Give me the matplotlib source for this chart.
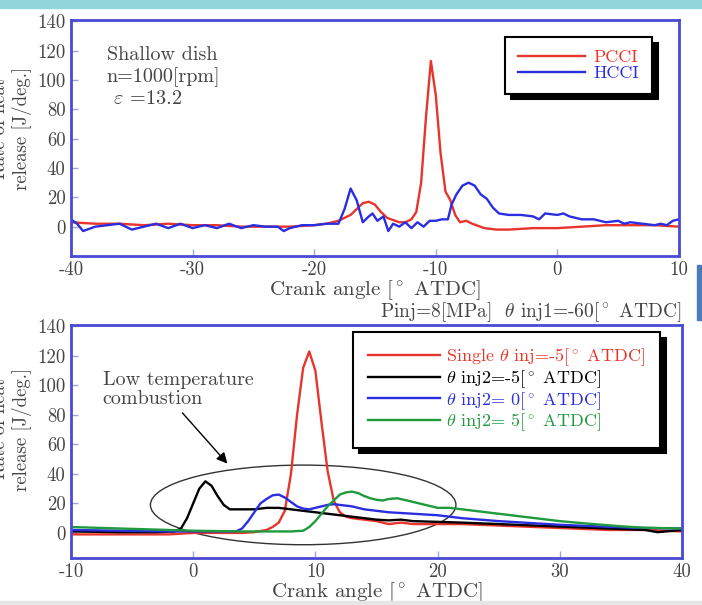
import numpy as np
import matplotlib
matplotlib.use("Agg")
import matplotlib.pyplot as plt
from matplotlib.patches import Ellipse, Rectangle

plt.rcParams['font.family'] = 'cmr10'
plt.rcParams['mathtext.fontset'] = 'cm'
plt.rcParams['axes.unicode_minus'] = False

# ---- top panel data: PCCI vs HCCI ----
hcci_x = [-40, -39.5, -39, -38, -37, -36, -35, -34, -33, -32, -31, -30, -29, -28, -27, -26,
          -25, -24, -23, -22.5, -22, -21, -20, -19, -18, -17.5, -17, -16.5, -16, -15.5, -15.2,
          -14.8, -14.3, -13.9, -13.5, -13, -12.5, -12, -11.5, -11, -10.5, -10, -9.5, -9, -8.7,
          -8.3, -7.8, -7.3, -6.8, -6.3, -5.8, -5.3, -4.8, -4, -3, -2, -1.5, -1, 0, 0.5, 1, 2,
          3, 4, 5, 5.5, 6, 7, 8, 8.5, 9, 9.5, 10]
hcci_y = [5, 2, -3, 0, 1, 2, -2, 0, 2, -1, 2, -1, 1, -1, 2, -1,
          1, 0, 0, -3, -1, 1, 1, 2, 2, 12, 26, 18, 3, 7, 9,
          4, 7, -3, 2, 0, 3, -1, 3, 0, 4, 4, 5, 5, 15,
          22, 28, 30, 28, 22, 19, 13, 9, 8, 8, 7, 5, 9, 8, 9, 7, 5,
          5, 3, 4, 2, 3, 2, 1, 2, 1, 4, 5]

pcci_x = [-40, -38, -36, -34, -32, -30, -28, -26, -24, -22, -20, -19, -18, -17, -16.5, -16,
          -15.5, -15, -14.5, -14, -13, -12.5, -12, -11.6, -11.2, -10.8, -10.4, -10, -9.6,
          -9.2, -8.8, -8.4, -8, -7.5, -7, -6, -5, -4, -2, 0, 2, 4, 6, 8, 10]
pcci_y = [3, 2, 2, 1, 2, 1, 1, 0, 0, 0, 1, 2, 4, 8, 12, 16,
          17, 15, 10, 6, 3, 3, 5, 10, 30, 75, 113, 90, 50,
          24, 18, 8, 3, 4, 2, -1, -2, -2, -1, -1, 0, 1, 1, 1, 0]

# ---- bottom panel data: split injection ----
single_x = [-10, -6, -2, 0, 2, 4, 5, 6, 6.5, 7, 7.5, 8, 8.5, 9, 9.5, 10, 10.5, 11, 11.5,
            12, 12.5, 13, 14, 15, 16, 17, 18, 20, 22, 25, 28, 31, 34, 37, 40]
single_y = [-1, -1, -1, 0, 0, 0, 0.5, 2, 4, 7, 15, 40, 80, 112, 123, 110, 75, 42, 22,
            14, 11, 10, 9, 8, 6, 7, 6, 6, 6, 5, 4, 3, 2, 2, 1]

inj_m5_x = [-10, -6, -3, -1.5, -1, -0.5, 0, 0.5, 1, 1.5, 2, 2.5, 3, 4, 5, 6, 7, 8, 9, 10,
            11, 12, 13, 14, 15, 16, 17, 18, 20, 22, 25, 28, 31, 34, 37, 38, 40]
inj_m5_y = [1, 0.5, 0.5, 1, 3, 10, 20, 30, 35, 32, 25, 19, 16, 16, 16, 17, 17, 16, 15, 14,
            13, 12, 11, 10, 9, 8.5, 9, 8, 7.5, 7, 6, 5, 4, 3, 2, 0.5, 2]

inj_0_x = [-10, -6, -2, 0, 2, 3.5, 4, 4.5, 5, 5.5, 6, 6.5, 7, 7.5, 8, 8.5, 9, 9.5, 10, 11,
           11.5, 12, 13, 14, 15, 16, 17, 18, 20, 22, 25, 28, 30, 33, 36, 40]
inj_0_y = [2, 1.5, 1, 1, 1, 1, 3, 8, 14, 20, 23, 25.5, 26, 24, 21, 18, 16.5, 16, 17, 19,
           19.5, 19, 18, 16, 15, 14, 13.5, 13, 12, 10, 8, 6.5, 5.5, 4.5, 3.5, 3]

inj_5_x = [-10, -6, -2, 0, 4, 8, 9, 9.5, 10, 10.5, 11, 11.5, 12, 12.5, 13, 13.5, 14, 14.5,
           15, 15.5, 16, 16.7, 17.5, 18.5, 20, 21, 22, 24, 26, 28, 30, 32, 35, 37, 40]
inj_5_y = [4, 3, 2, 1.5, 1, 1, 1.5, 4, 8, 13, 18, 22, 26, 27.5, 28, 27, 25, 23.5,
           22.5, 22, 23, 23.5, 22, 20, 17, 17, 16, 14, 12, 10, 8, 6.5, 4.5, 3.5, 3]

top_xticks = [-40, -30, -20, -10, 0, 10]
bot_xticks = [-10, 0, 10, 20, 30, 40]
yticks = [0, 20, 40, 60, 80, 100, 120, 140]

frame_col = "#4a4ad6"
tick_col = "#9aa6dc"
lbl_col = "#444444"
red = "#e8352b"
blue = "#2a2ee0"
green = "#1f9a3c"
deg = "[$^\\circ$ ATDC]"


def style_axes(ax, xticks):
    for s in ax.spines.values():
        s.set_color(frame_col)
        s.set_linewidth(2.0)
    ax.set_xticks(xticks)
    ax.set_xticklabels([str(t) for t in xticks])
    ax.set_yticks(yticks)
    ax.set_yticklabels([str(t) for t in yticks])
    ax.tick_params(direction='in', length=5, width=1, color=tick_col,
                   labelcolor=lbl_col, labelsize=13.5, pad=4)


shadow = {'ox': 4, 'oy': -4, 'facecolor': 'black', 'edgecolor': 'black', 'alpha': 1}

fig = plt.figure(figsize=(7.02, 6.05), dpi=100)

# slide decorations
fig.patches.append(Rectangle((0, 0.987), 1, 0.013, transform=fig.transFigure,
                             color="#93d6d9", zorder=0))
fig.patches.append(Rectangle((0.993, 0.471), 0.007, 0.091, transform=fig.transFigure,
                             color="#4d7bb8", zorder=0))
fig.patches.append(Rectangle((0, 0), 1, 0.006, transform=fig.transFigure,
                             color="#e6e6e6", zorder=0))

# ---------------- top ----------------
ax1 = fig.add_axes([0.1011, 0.5769, 0.866, 0.3901])
ax1.plot(pcci_x, pcci_y, color=red, lw=1.7, label="PCCI")
ax1.plot(hcci_x, hcci_y, color=blue, lw=1.7, label="HCCI")
ax1.set_xlim(-40, 10)
ax1.set_ylim(-20, 141)
style_axes(ax1, top_xticks)
ax1.set_xlabel("Crank angle " + deg, fontsize=15, color=lbl_col, labelpad=-1)
ax1.text(0.059, 0.89, "Shallow dish\nn=1000[rpm]\n $\\varepsilon$ =13.2", transform=ax1.transAxes,
         fontsize=14.5, color=lbl_col, va='top', linespacing=1.22)
leg1 = ax1.legend(loc='upper right', bbox_to_anchor=(0.956, 0.928), fontsize=13,
                  handlelength=3.7, handletextpad=0.5, labelspacing=0.0, borderpad=0.7,
                  borderaxespad=0, labelcolor='linecolor', fancybox=False, edgecolor='black',
                  shadow=shadow)
leg1.get_frame().set_linewidth(1.5)

fig.text(0.016, 0.787, "Rate of heat\nrelease [J/deg.]", rotation=90, ha='center', va='center',
         fontsize=13.5, color=lbl_col, linespacing=1.2)

# ---------------- bottom ----------------
ax2 = fig.add_axes([0.1011, 0.0777, 0.8704, 0.3851])
ax2.plot(single_x, single_y, color=red, lw=1.7, label="Single $\\theta$ inj=-5" + deg)
ax2.plot(inj_m5_x, inj_m5_y, color='black', lw=1.7, label="$\\theta$ inj2=-5" + deg)
ax2.plot(inj_0_x, inj_0_y, color=blue, lw=1.7, label="$\\theta$ inj2= 0" + deg)
ax2.plot(inj_5_x, inj_5_y, color=green, lw=1.7, label="$\\theta$ inj2= 5" + deg)
ax2.set_xlim(-10, 40)
ax2.set_ylim(-17, 141)
style_axes(ax2, bot_xticks)
ax2.set_xlabel("Crank angle " + deg, fontsize=15, color=lbl_col, labelpad=-1)

ax2.add_patch(Ellipse((9, 19), 25, 54, fill=False, edgecolor='#333333', lw=1.0))
ax2.annotate("Low temperature\ncombustion", xy=(2.8, 47), xytext=(-7.4, 110),
             fontsize=14.5, color=lbl_col, va='top', linespacing=1.1,
             arrowprops=dict(arrowstyle='-|>', color='black', lw=1.0, mutation_scale=16,
                             shrinkA=2, shrinkB=0, relpos=(0.5, 0.0)))

leg2 = ax2.legend(loc='upper right', bbox_to_anchor=(0.964, 0.97), fontsize=13,
                  handlelength=4.0, handletextpad=0.35, labelspacing=0.0, borderpad=0.8,
                  borderaxespad=0, labelcolor='linecolor', fancybox=False, edgecolor='black',
                  shadow=shadow)
leg2.get_frame().set_linewidth(1.5)

fig.text(0.971, 0.484, "Pinj=8[MPa]  $\\theta$ inj1=-60" + deg, ha='right', va='center',
         fontsize=14, color=lbl_col)
fig.text(0.016, 0.291, "Rate of heat\nrelease [J/deg.]", rotation=90, ha='center', va='center',
         fontsize=13.5, color=lbl_col, linespacing=1.2)

fig.savefig("out.png", dpi=100)
